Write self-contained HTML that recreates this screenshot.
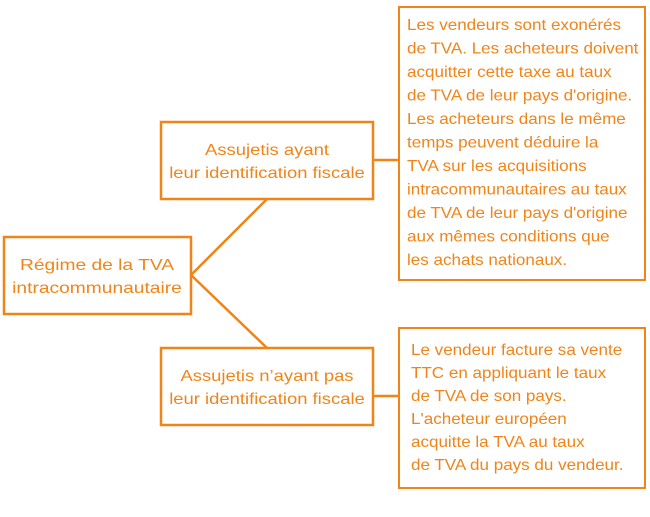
<!DOCTYPE html>
<html><head><meta charset="utf-8"><style>
html,body{margin:0;padding:0;background:#fff;}
svg{display:block;}
text{font-family:"Liberation Sans",sans-serif;fill:#f08419;font-size:15.5px;}
</style></head><body>
<svg width="650" height="517" viewBox="0 0 650 517">
<g fill="none" stroke="#f08419">
<rect x="4" y="237" width="187" height="77" stroke-width="2.5"/>
<rect x="161" y="122" width="212" height="77" stroke-width="2.5"/>
<rect x="161" y="348" width="212" height="77" stroke-width="2.5"/>
<rect x="399" y="7" width="246" height="273" stroke-width="2"/>
<rect x="399" y="328" width="246" height="160" stroke-width="2"/>
<line x1="191" y1="275" x2="267" y2="199" stroke-width="2.5"/>
<line x1="191" y1="275" x2="267" y2="348" stroke-width="2.5"/>
<line x1="373" y1="160" x2="399" y2="160" stroke-width="2.5"/>
<line x1="373" y1="396" x2="399" y2="396" stroke-width="2.5"/>
</g>
<g text-anchor="middle" transform="translate(97,0) scale(1.24,1) translate(-97,0)">
<text x="97" y="270">Régime de la TVA</text>
<text x="97" y="293">intracommunautaire</text>
</g>
<g text-anchor="middle" transform="translate(267,0) scale(1.19,1) translate(-267,0)">
<text x="267" y="155">Assujetis ayant</text>
<text x="267" y="178">leur identification fiscale</text>
<text x="267" y="381">Assujetis n’ayant pas</text>
<text x="267" y="404">leur identification fiscale</text>
</g>
<g transform="translate(407,0) scale(1.1,1) translate(-407,0)">
<text x="407" y="30">Les vendeurs sont exonérés</text>
<text x="407" y="53.5">de TVA. Les acheteurs doivent</text>
<text x="407" y="77">acquitter cette taxe au taux</text>
<text x="407" y="100.5">de TVA de leur pays d'origine.</text>
<text x="407" y="124">Les acheteurs dans le même</text>
<text x="407" y="147.5">temps peuvent déduire la</text>
<text x="407" y="171">TVA sur les acquisitions</text>
<text x="407" y="194.5">intracommunautaires au taux</text>
<text x="407" y="218">de TVA de leur pays d'origine</text>
<text x="407" y="241.5">aux mêmes conditions que</text>
<text x="407" y="265">les achats nationaux.</text>
</g>
<g transform="translate(411,0) scale(1.1,1) translate(-411,0)">
<text x="411" y="355">Le vendeur facture sa vente</text>
<text x="411" y="378">TTC en appliquant le taux</text>
<text x="411" y="401">de TVA de son pays.</text>
<text x="411" y="424">L'acheteur européen</text>
<text x="411" y="447">acquitte la TVA au taux</text>
<text x="411" y="470">de TVA du pays du vendeur.</text>
</g>
</svg>
</body></html>
